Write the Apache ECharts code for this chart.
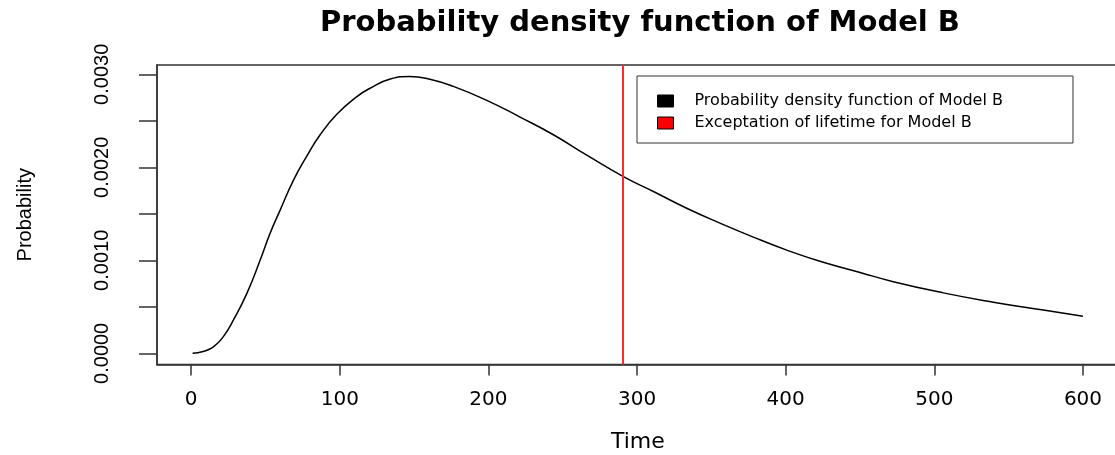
<!DOCTYPE html>
<html>
<head>
<meta charset="utf-8">
<script src="https://cdn.jsdelivr.net/npm/echarts@6/dist/echarts.min.js"></script>
<style>
  html, body { margin: 0; padding: 0; background: #fff; }
  #main-chart { width: 1115px; height: 455px; }
</style>
</head>
<body>
<div id="main-chart"></div>
<script>
// values
var timeValues = [1, 8, 15, 21.7, 28.5, 37.5, 46.4, 53.1, 59.9, 68.8, 77.8, 86.8, 98, 111.5, 120.4, 134,
    147, 160, 176.4, 198.9, 221.3, 243.7, 266.2, 290.8, 311, 333.4, 355.8, 378.2, 400.7, 423,
    450, 472.4, 506, 539.7, 573.3, 600];
var densityValues = [0, 0.00002, 0.00007, 0.00018, 0.00036, 0.000645, 0.00100, 0.00129, 0.00154, 0.00186,
    0.00212, 0.00235, 0.00257, 0.00276, 0.00285, 0.00295, 0.002977, 0.00295, 0.00287, 0.00272,
    0.00254, 0.00235, 0.00213, 0.00190, 0.00174, 0.00156, 0.00140, 0.00125, 0.00111, 0.00099,
    0.00087, 0.00077, 0.00065, 0.00055, 0.000465, 0.00040];
var expectedLifetime = 290.6;
var xTicks = [0, 100, 200, 300, 400, 500, 600];
var yTicks = [0, 0.0005, 0.001, 0.0015, 0.002, 0.0025, 0.003];
var yTickLabels = [0, 0.001, 0.002, 0.003];
var seriesNames = ['Probability density function of Model B', 'Exceptation of lifetime for Model B'];

var curve = [];
for (var i = 0; i < timeValues.length; i++) {
    curve.push([timeValues[i], densityValues[i]]);
}

var myChart = echarts.init(document.getElementById('main-chart'));
var option = {
    animation: false,
    title: {
        text: 'Probability density function of Model B',
        left: 640,
        top: 9,
        padding: 0,
        textAlign: 'center',
        textStyle: {
            fontFamily: 'DejaVu Sans',
            fontWeight: 'bold',
            fontSize: 29,
            color: '#000'
        }
    },
    legend: {
        orient: 'vertical',
        left: 637,
        top: 76,
        padding: [17, 70, 12, 20],
        borderColor: '#333',
        borderWidth: 1,
        itemWidth: 16,
        itemHeight: 12,
        itemGap: 6,
        textStyle: {
            fontFamily: 'DejaVu Sans',
            fontSize: 16,
            lineHeight: 14,
            color: '#000',
            padding: [0, 0, 0, 16]
        },
        data: [
            {name: seriesNames[0], icon: 'rect', itemStyle: {color: '#000', borderColor: '#000', borderWidth: 1}},
            {name: seriesNames[1], icon: 'rect', itemStyle: {color: '#ff0000', borderColor: '#000', borderWidth: 1}}
        ]
    },
    grid: {
        left: 157,
        right: -3.6,
        top: 65,
        bottom: 90.5,
        outerBoundsMode: 'none',
        show: true,
        borderColor: '#333',
        borderWidth: 1.5
    },
    xAxis: {
        type: 'value',
        position: 'bottom',
        min: -22.96,
        max: 623.96,
        name: 'Time',
        nameLocation: 'middle',
        nameGap: 67,
        nameTextStyle: {fontFamily: 'DejaVu Sans', fontSize: 22, color: '#000'},
        axisLine: {show: true, onZero: false, lineStyle: {color: '#333', width: 1.5}},
        splitLine: {show: false},
        axisTick: {show: true, inside: false, length: 11, customValues: xTicks, lineStyle: {color: '#333', width: 1.5}},
        axisLabel: {customValues: xTicks, margin: 25, fontFamily: 'DejaVu Sans', fontSize: 20, color: '#000'}
    },
    yAxis: {
        type: 'value',
        position: 'left',
        min: -0.00012,
        max: 0.0031,
        name: 'Probability',
        nameLocation: 'middle',
        nameGap: 122,
        nameTextStyle: {fontFamily: 'Liberation Sans', fontSize: 20, color: '#000'},
        axisLine: {show: true, onZero: false, lineStyle: {color: '#333', width: 1.5}},
        splitLine: {show: false},
        axisTick: {show: true, inside: false, length: 18, customValues: yTicks, lineStyle: {color: '#333', width: 1.5}},
        axisLabel: {
            customValues: yTickLabels,
            rotate: 90,
            margin: 45,
            fontFamily: 'Liberation Sans',
            fontSize: 20,
            color: '#000',
            formatter: function (v) { return v.toFixed(4); }
        }
    },
    series: [
        {
            name: seriesNames[0],
            type: 'line',
            data: curve,
            smooth: true,
            showSymbol: false,
            lineStyle: {color: '#000', width: 1.5},
            itemStyle: {color: '#000'}
        },
        {
            name: seriesNames[1],
            type: 'line',
            data: [],
            itemStyle: {color: '#ff0000'},
            markLine: {
                silent: true,
                symbol: ['none', 'none'],
                label: {show: false},
                lineStyle: {color: '#ff2a2a', width: 2, type: 'solid'},
                data: [{xAxis: expectedLifetime}]
            }
        }
    ]
};
myChart.setOption(option);
</script>
</body>
</html>
